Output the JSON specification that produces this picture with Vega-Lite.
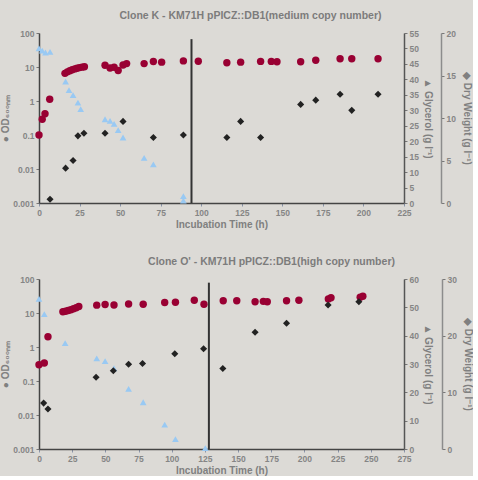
{
  "$schema": "https://vega.github.io/schema/vega-lite/v6.json",
  "background": "#dcdad6",
  "padding": {"left": 0, "right": 0, "top": 10, "bottom": 0},
  "spacing": 26,
  "config": {
    "view": {"stroke": null},
    "font": "Liberation Sans",
    "title": {"font": "Liberation Sans", "fontSize": 10.5, "fontWeight": "bold", "color": "#7c7c7c", "offset": 8},
    "axis": {
      "grid": false, "labelOverlap": false,
      "labelFont": "Liberation Sans", "labelFontSize": 8.5, "labelFontWeight": "bold", "labelColor": "#858585",
      "titleFont": "Liberation Sans", "titleFontSize": 10, "titleFontWeight": "bold", "titleColor": "#808080",
      "domainColor": "#444444", "domainWidth": 1.5, "tickColor": "#777777", "tickSize": 3, "labelPadding": 2
    }
  },
  "datasets": {
    "k_od": [
      {"t": 0, "v": 0.1}, {"t": 2, "v": 0.29}, {"t": 3.7, "v": 0.42}, {"t": 6.6, "v": 1.12},
      {"t": 16, "v": 6.5}, {"t": 17.5, "v": 7.2}, {"t": 19, "v": 7.8}, {"t": 20.5, "v": 8.3}, {"t": 22, "v": 8.8},
      {"t": 23.5, "v": 9.2}, {"t": 25, "v": 9.6}, {"t": 26.5, "v": 9.9}, {"t": 28, "v": 10.2},
      {"t": 40.7, "v": 11.2}, {"t": 43.8, "v": 9.3}, {"t": 46.3, "v": 9.8}, {"t": 48.8, "v": 7.9},
      {"t": 51.8, "v": 11.5}, {"t": 54, "v": 12.6}, {"t": 64.8, "v": 12.6}, {"t": 70.5, "v": 14.5},
      {"t": 75.6, "v": 13.9}, {"t": 89, "v": 15.1}, {"t": 98.2, "v": 14.7}, {"t": 115.8, "v": 13.3},
      {"t": 124.3, "v": 13.9}, {"t": 136.6, "v": 14.6}, {"t": 143.2, "v": 14.6}, {"t": 146.7, "v": 14.3},
      {"t": 161.3, "v": 14.3}, {"t": 170.6, "v": 15.8}, {"t": 185.6, "v": 17.4}, {"t": 192.8, "v": 17.4},
      {"t": 209, "v": 17.4}
    ],
    "k_dw": [
      {"t": 6.8, "v": 0.44}, {"t": 16.4, "v": 4.1}, {"t": 21, "v": 5.0}, {"t": 24, "v": 7.9},
      {"t": 27.7, "v": 8.2}, {"t": 40.7, "v": 8.2}, {"t": 51.8, "v": 9.6}, {"t": 70.5, "v": 7.7},
      {"t": 89, "v": 8.0}, {"t": 115.8, "v": 7.7}, {"t": 124.3, "v": 9.6}, {"t": 136.6, "v": 7.7},
      {"t": 161.3, "v": 11.6}, {"t": 170.6, "v": 12.1}, {"t": 185.6, "v": 12.8}, {"t": 192.8, "v": 10.9},
      {"t": 209, "v": 12.8}
    ],
    "k_gly": [
      {"t": 0, "v": 50}, {"t": 2, "v": 49.3}, {"t": 4, "v": 48.7}, {"t": 6.8, "v": 48.9},
      {"t": 16.4, "v": 39.3}, {"t": 18.5, "v": 36.5}, {"t": 21, "v": 34.9}, {"t": 24, "v": 32.5},
      {"t": 25.7, "v": 30.4}, {"t": 40.7, "v": 27.1}, {"t": 43.8, "v": 26.6}, {"t": 46.3, "v": 25.6},
      {"t": 48.8, "v": 23.6}, {"t": 51.8, "v": 21.2}, {"t": 64.8, "v": 14.6}, {"t": 70.5, "v": 12.5},
      {"t": 89, "v": 2.2}, {"t": 89, "v": 0.8}
    ],
    "k_line": [{"t": 94, "lo": 0.001, "hi": 66}],
    "o_od": [
      {"t": 0, "v": 0.3}, {"t": 4, "v": 0.34}, {"t": 6.75, "v": 2.0},
      {"t": 18, "v": 10.9}, {"t": 20, "v": 11.2}, {"t": 22, "v": 11.8}, {"t": 24, "v": 12.5},
      {"t": 26, "v": 13.3}, {"t": 28, "v": 14.3}, {"t": 30, "v": 15.5},
      {"t": 43.5, "v": 17}, {"t": 49.8, "v": 17.8}, {"t": 56.5, "v": 17.2}, {"t": 67.5, "v": 18.3},
      {"t": 78.5, "v": 18}, {"t": 94.7, "v": 20.3}, {"t": 102.8, "v": 20.6}, {"t": 117, "v": 23.8},
      {"t": 124.3, "v": 18}, {"t": 138.8, "v": 23}, {"t": 149, "v": 23}, {"t": 162.8, "v": 21.5},
      {"t": 169, "v": 22}, {"t": 172, "v": 21.5}, {"t": 186.5, "v": 23}, {"t": 195.8, "v": 23.8},
      {"t": 218, "v": 26}, {"t": 220, "v": 28}, {"t": 242, "v": 29}, {"t": 244, "v": 31}
    ],
    "o_dw": [
      {"t": 3.5, "v": 8.1}, {"t": 6.75, "v": 7.06}, {"t": 43, "v": 12.65}, {"t": 56, "v": 13.8},
      {"t": 67.5, "v": 14.95}, {"t": 78, "v": 15.1}, {"t": 102.3, "v": 16.8}, {"t": 124, "v": 17.7},
      {"t": 138.5, "v": 14.2}, {"t": 162.8, "v": 20.6}, {"t": 186.5, "v": 22.2}, {"t": 217.8, "v": 25.4},
      {"t": 241, "v": 26}
    ],
    "o_gly": [
      {"t": 0, "v": 53}, {"t": 4, "v": 47.6}, {"t": 19.7, "v": 37.4}, {"t": 43.5, "v": 32},
      {"t": 49.8, "v": 31}, {"t": 56.5, "v": 28.5}, {"t": 67.5, "v": 21.2}, {"t": 78.5, "v": 16.5},
      {"t": 94.7, "v": 8.6}, {"t": 102.8, "v": 3.5}, {"t": 125.3, "v": 0.3}
    ],
    "o_line": [{"t": 128, "lo": 0.001, "hi": 78}]
  },
  "vconcat": [
    {
      "width": 365, "height": 170,
      "title": {"text": "Clone K - KM71H pPICZ::DB1(medium copy number)", "dx": 29},
      "layer": [
        {
          "data": {"name": "k_od"},
          "mark": {"type": "point", "shape": "circle", "filled": true, "color": "#990033", "size": 55, "opacity": 1},
          "encoding": {
            "x": {"field": "t", "type": "quantitative", "scale": {"domain": [0, 225], "nice": false},
                  "axis": {"values": [0, 25, 50, 75, 100, 125, 150, 175, 200, 225], "tickCount": 20, "labelFlush": false, "labelOverlap": false, "title": "Incubation Time (h)", "titlePadding": 3, "tickColor": "#8a94a8"}},
            "y": {"field": "v", "type": "quantitative", "scale": {"type": "log", "domain": [0.001, 100], "nice": false},
                  "axis": {"orient": "left", "values": [0.001, 0.01, 0.1, 1, 10, 100], "tickCount": 20, "format": ".3~f", "labelOverlap": false, "title": "● OD₆₀₀ₙₘ", "titlePadding": 2}}
          }
        },
        {
          "data": {"name": "k_gly"},
          "mark": {"type": "point", "shape": "triangle-up", "filled": true, "color": "#99c9f3", "size": 45, "opacity": 1},
          "encoding": {
            "x": {"field": "t", "type": "quantitative"},
            "y": {"field": "v", "type": "quantitative", "scale": {"domain": [0, 55], "nice": false},
                  "axis": {"orient": "right", "values": [0, 5, 10, 15, 20, 25, 30, 35, 40, 45, 50, 55], "tickCount": 20, "labelOverlap": false, "title": "▲ Glycerol (g l⁻¹)", "titlePadding": 4, "domainColor": "#555555"}}
          }
        },
        {
          "data": {"name": "k_dw"},
          "mark": {"type": "point", "shape": "diamond", "filled": true, "color": "#222222", "size": 50, "opacity": 1},
          "encoding": {
            "x": {"field": "t", "type": "quantitative"},
            "y": {"field": "v", "type": "quantitative", "scale": {"domain": [0, 20], "nice": false},
                  "axis": {"orient": "right", "offset": 37, "values": [0, 5, 10, 15, 20], "tickCount": 20, "title": "◆ Dry Weight (g l⁻¹)", "titlePadding": 6, "domainColor": "#8c8c8c"}}
          }
        },
        {
          "data": {"name": "k_line"},
          "mark": {"type": "rule", "color": "#333333", "strokeWidth": 2},
          "encoding": {
            "x": {"field": "t", "type": "quantitative"},
            "y": {"field": "lo", "type": "quantitative", "scale": {"type": "log", "domain": [0.001, 100], "nice": false}, "axis": null},
            "y2": {"field": "hi"}
          }
        }
      ],
      "resolve": {"scale": {"y": "independent"}}
    },
    {
      "width": 365, "height": 170,
      "title": {"text": "Clone O' - KM71H pPICZ::DB1(high copy number)", "dx": 50},
      "layer": [
        {
          "data": {"name": "o_od"},
          "mark": {"type": "point", "shape": "circle", "filled": true, "color": "#990033", "size": 55, "opacity": 1},
          "encoding": {
            "x": {"field": "t", "type": "quantitative", "scale": {"domain": [0, 275], "nice": false},
                  "axis": {"values": [0, 25, 50, 75, 100, 125, 150, 175, 200, 225, 250, 275], "tickCount": 20, "labelFlush": false, "labelOverlap": false, "title": "Incubation Time (h)", "titlePadding": 3, "tickColor": "#8a94a8"}},
            "y": {"field": "v", "type": "quantitative", "scale": {"type": "log", "domain": [0.001, 100], "nice": false},
                  "axis": {"orient": "left", "values": [0.001, 0.01, 0.1, 1, 10, 100], "tickCount": 20, "format": ".3~f", "labelOverlap": false, "title": "● OD₆₀₀ₙₘ", "titlePadding": 2}}
          }
        },
        {
          "data": {"name": "o_gly"},
          "mark": {"type": "point", "shape": "triangle-up", "filled": true, "color": "#99c9f3", "size": 45, "opacity": 1},
          "encoding": {
            "x": {"field": "t", "type": "quantitative"},
            "y": {"field": "v", "type": "quantitative", "scale": {"domain": [0, 60], "nice": false},
                  "axis": {"orient": "right", "values": [0, 10, 20, 30, 40, 50, 60], "tickCount": 20, "title": "▲ Glycerol (g l⁻¹)", "titlePadding": 4, "domainColor": "#555555"}}
          }
        },
        {
          "data": {"name": "o_dw"},
          "mark": {"type": "point", "shape": "diamond", "filled": true, "color": "#222222", "size": 50, "opacity": 1},
          "encoding": {
            "x": {"field": "t", "type": "quantitative"},
            "y": {"field": "v", "type": "quantitative", "scale": {"domain": [0, 30], "nice": false},
                  "axis": {"orient": "right", "offset": 38, "values": [0, 10, 20, 30], "tickCount": 20, "title": "◆ Dry Weight (g l⁻¹)", "titlePadding": 6, "domainColor": "#8c8c8c"}}
          }
        },
        {
          "data": {"name": "o_line"},
          "mark": {"type": "rule", "color": "#333333", "strokeWidth": 2},
          "encoding": {
            "x": {"field": "t", "type": "quantitative"},
            "y": {"field": "lo", "type": "quantitative", "scale": {"type": "log", "domain": [0.001, 100], "nice": false}, "axis": null},
            "y2": {"field": "hi"}
          }
        }
      ],
      "resolve": {"scale": {"y": "independent"}}
    }
  ]
}
